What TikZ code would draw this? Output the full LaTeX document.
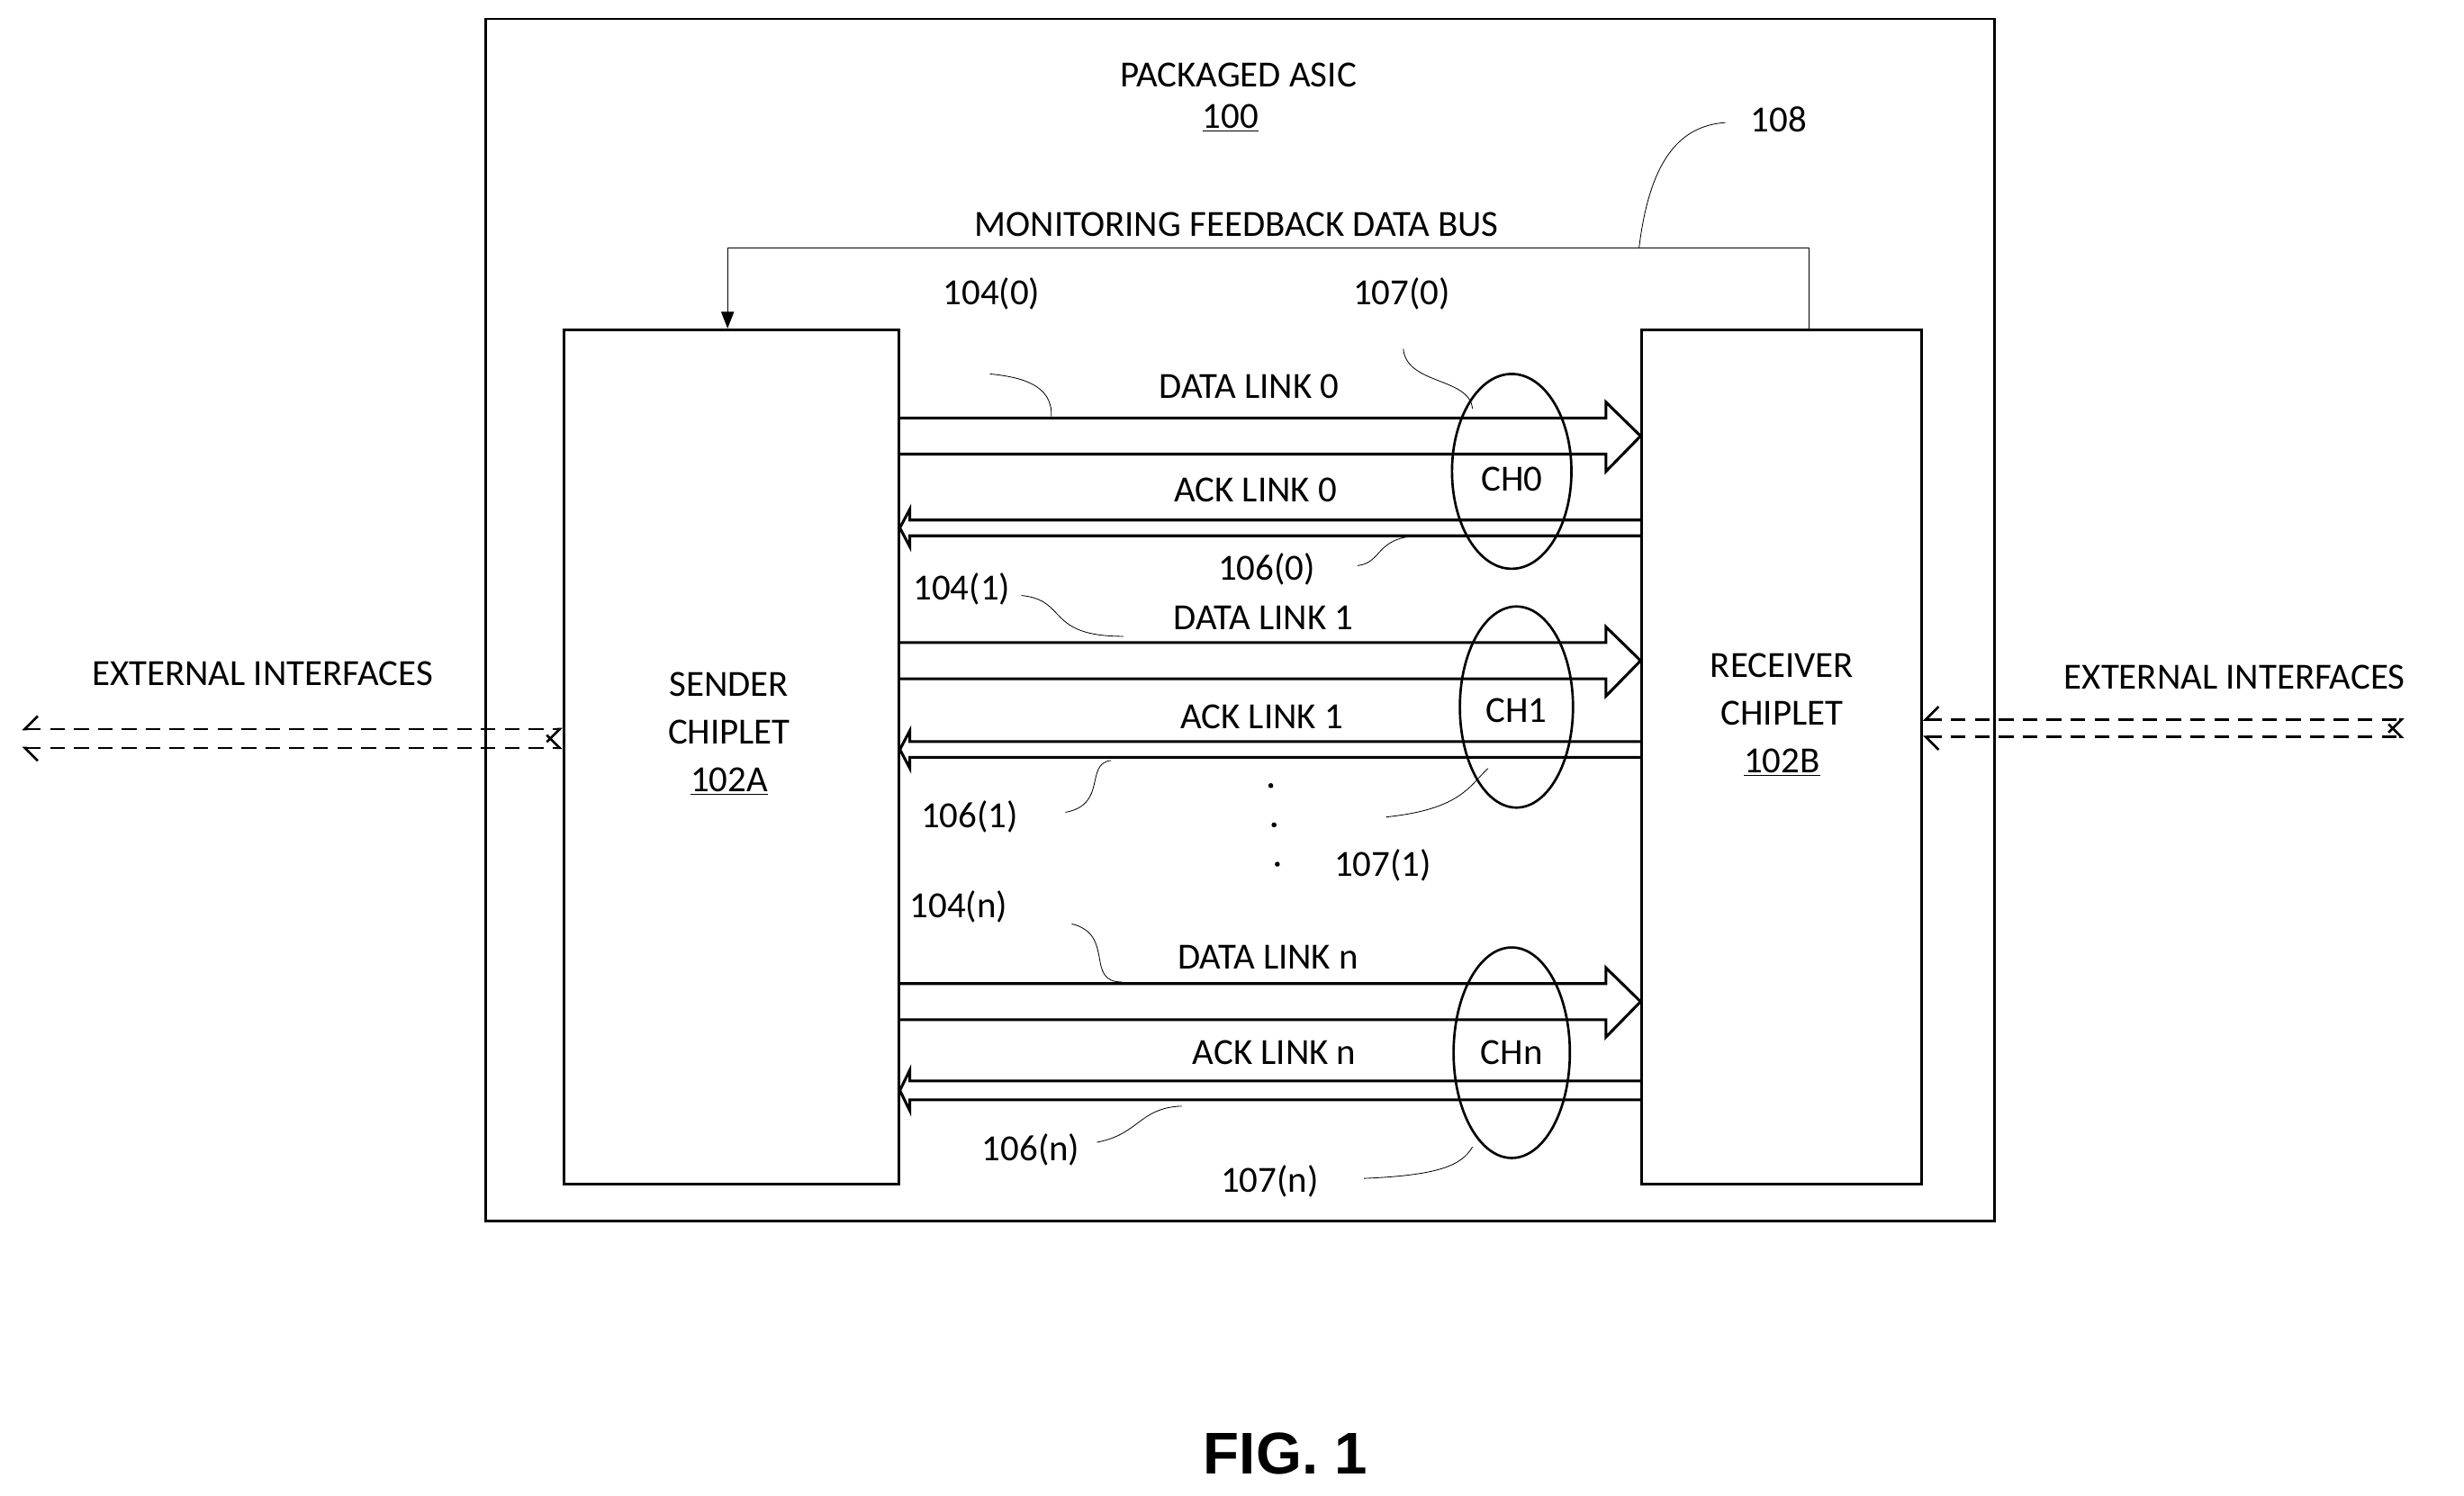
\documentclass[tikz,border=0pt]{standalone}
\usepackage{fontspec}
\setmainfont{Carlito}
\newfontfamily\figfont{Liberation Sans}
\usetikzlibrary{arrows.meta}

% hollow wide arrows for data (to the right) and ack (to the left) links
\newcommand{\datalink}[2]{%
  \draw[link] (snd.east |- 0,#1) -- (1022,#1) -- (1022,#1-10) -- (rcv.west |- 0,{(#1+#2)/2})
    -- (1022,#2+11) -- (1022,#2) -- (snd.east |- 0,#2);}
\newcommand{\acklink}[2]{%
  \draw[link] (rcv.west |- 0,#1) -- (579,#1) -- (579,#1-7) -- (snd.east |- 0,{(#1+#2)/2})
    -- (579,#2+7) -- (579,#2) -- (rcv.west |- 0,#2);}

\begin{document}
\begin{tikzpicture}[x=0.03cm,y=-0.03cm,thick,
    every node/.style={font=\fontsize{20}{24}\selectfont,inner sep=1pt},
    chip node/.style={rectangle,draw,line width=1.4pt,align=center,anchor=north west},
    link/.style={line width=1.5pt,line join=miter},
    lead/.style={thin},
    ext/.style={line width=1.3pt,dash pattern=on 8pt off 5pt}]

  \useasboundingbox (0,0) rectangle (1568,952);
  \draw[line width=1.4pt] (309,12) rectangle (1269,777);

  \node (asic) at (788,48) {PACKAGED ASIC};
  \node (asicnum) at (783,75) {\underline{100}};

  \node[chip node,minimum width=213*0.03cm,minimum height=544*0.03cm] (snd) at (358,209) {};
  \node[chip node,minimum width=178*0.03cm,minimum height=544*0.03cm] (rcv) at (1044,209) {};
  \node[align=center] (sndtxt) at (464,467) {SENDER\\[2pt]CHIPLET\\[2pt]\underline{102A}};
  \node[align=center] (rcvtxt) at (1134,455) {RECEIVER\\[2pt]CHIPLET\\[2pt]\underline{102B}};

  % monitoring feedback bus
  \node (bus) at (787,143) {MONITORING FEEDBACK DATA BUS};
  \coordinate (busR) at (1151,158);
  \coordinate (busL) at (463,158);
  \draw[thin,-{Triangle[length=9pt,width=7pt]}] (rcv.north -| busR) -- (busR) -- (busL) -- (snd.north -| busL);
  \node (r108) at (1132,76) {108};
  \draw[lead] (1043,158) .. controls (1050,100) and (1070,80) .. (1098,78);

  % links
  \datalink{266}{289}
  \acklink{331}{341}
  \datalink{409}{432}
  \acklink{472}{482}
  \datalink{626}{649}
  \acklink{688}{700}

  \node (dl0) at (795,246) {DATA LINK 0};
  \node (al0) at (799,312) {ACK LINK 0};
  \node (dl1) at (804,393) {DATA LINK 1};
  \node (al1) at (803,456) {ACK LINK 1};
  \node (dln) at (807,609) {DATA LINK n};
  \node (aln) at (811,670) {ACK LINK n};

  % channels
  \draw[line width=1.3pt] (962,300) ellipse [x radius=38,y radius=62];
  \draw[line width=1.3pt] (965,450) ellipse [x radius=36,y radius=64];
  \draw[line width=1.3pt] (962,670) ellipse [x radius=37,y radius=67];
  \node (ch0) at (962,305) {CH0};
  \node (ch1) at (965,452) {CH1};
  \node (chn) at (962,670) {CHn};

  \foreach \yy in {500,525,550} {\fill (808+\yy/12-41,\yy) circle (1.6);}

  % reference numerals
  \node (r1040) at (631,187) {104(0)};
  \node (r1070) at (892,187) {107(0)};
  \node (r1060) at (806,362) {106(0)};
  \node (r1041) at (612,375) {104(1)};
  \node (r1061) at (617,520) {106(1)};
  \node (r1071) at (880,551) {107(1)};
  \node (r104n) at (610,577) {104(n)};
  \node (r106n) at (656,732) {106(n)};
  \node (r107n) at (808,752) {107(n)};

  \draw[lead] (630,238) .. controls (650,240) and (670,245) .. (669,265);
  \draw[lead] (893,222) .. controls (895,245) and (935,240) .. (937,260);
  \draw[lead] (864,360) .. controls (880,358) and (875,342) .. (903,341);
  \draw[lead] (650,379) .. controls (680,382) and (665,405) .. (715,405);
  \draw[lead] (678,517) .. controls (705,512) and (690,486) .. (707,484);
  \draw[lead] (882,520) .. controls (930,515) and (935,500) .. (947,489);
  \draw[lead] (682,588) .. controls (710,595) and (690,625) .. (714,625);
  \draw[lead] (698,727) .. controls (725,722) and (725,705) .. (752,704);
  \draw[lead] (868,750) .. controls (915,748) and (930,742) .. (937,730);

  % external interfaces
  \node (extL) at (167,429) {EXTERNAL INTERFACES};
  \node (extR) at (1422,431) {EXTERNAL INTERFACES};
  \draw[ext,{Straight Barb[right,length=7pt]}-{Straight Barb[right,length=7pt]}] (14,464) -- (snd.west |- 0,464);
  \draw[ext,{Straight Barb[left,length=7pt]}-{Straight Barb[left,length=7pt]}] (14,476) -- (snd.west |- 0,476);
  \draw[ext,{Straight Barb[right,length=7pt]}-{Straight Barb[right,length=7pt]}] (rcv.east |- 0,458) -- (1530,458);
  \draw[ext,{Straight Barb[left,length=7pt]}-{Straight Barb[left,length=7pt]}] (rcv.east |- 0,469) -- (1530,469);

  \node[font=\figfont\bfseries\fontsize{32}{38}\selectfont] (fig) at (818,925) {FIG. 1};
\end{tikzpicture}
\end{document}
